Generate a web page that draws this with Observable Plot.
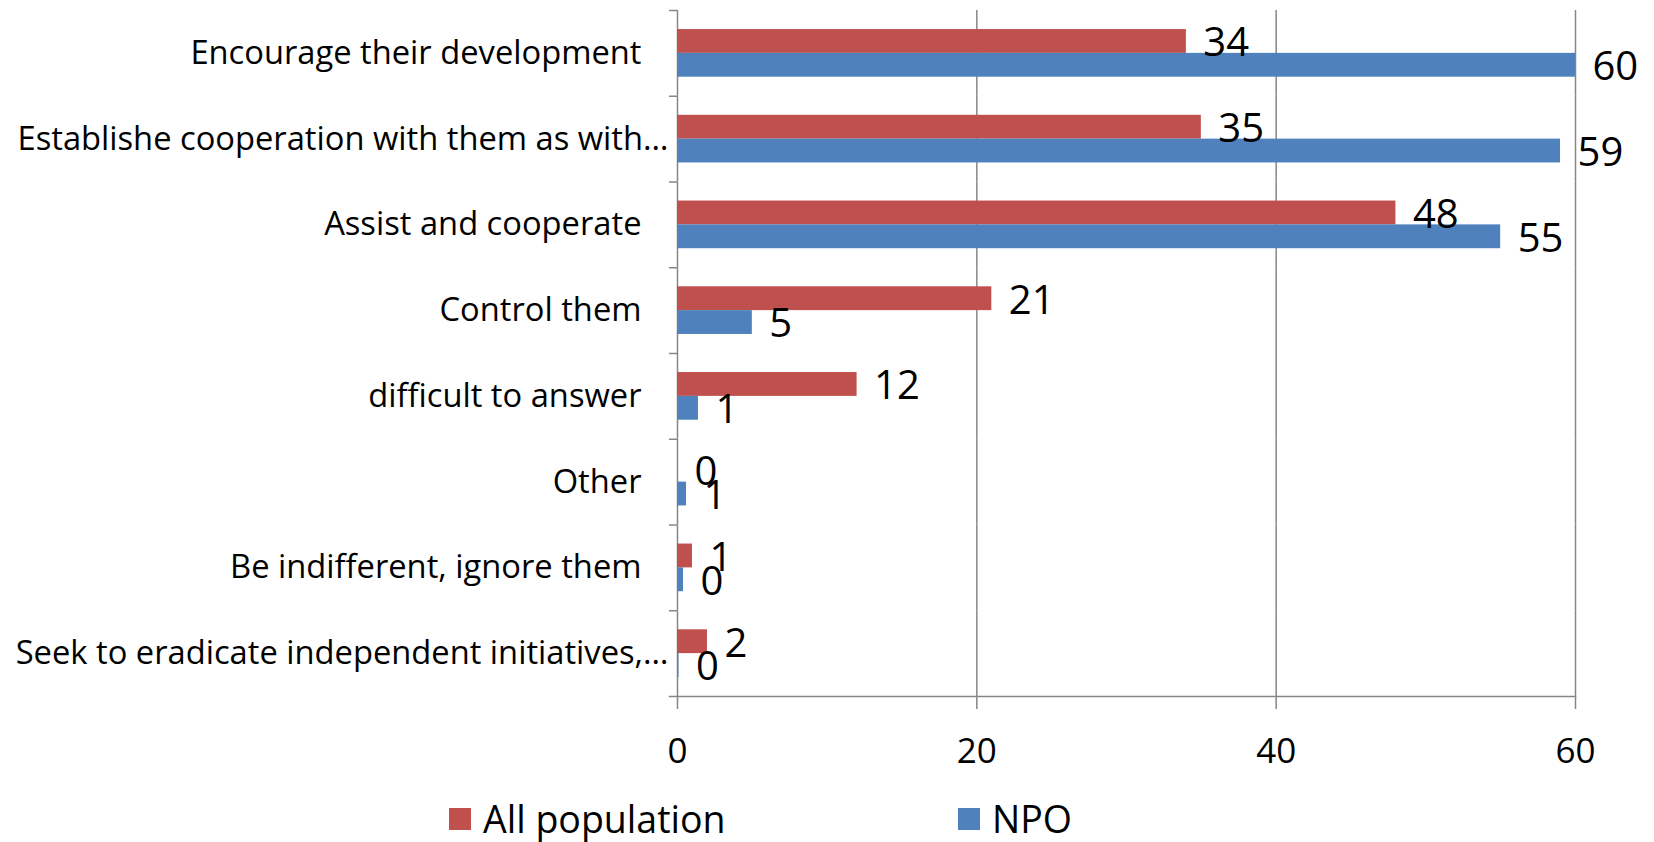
<!DOCTYPE html>
<html><head><meta charset="utf-8">
<script src="https://cdn.jsdelivr.net/npm/d3@7"></script>
<script src="https://cdn.jsdelivr.net/npm/@observablehq/plot@0.6"></script>
<style>
body{margin:0;background:#fff;font-family:"Open Sans",sans-serif;}
#wrap{position:relative;width:1654px;height:842px;overflow:hidden;}
#wrap svg{position:absolute;left:0;top:0;}
.legend-item{position:absolute;top:797px;display:flex;align-items:center;font-size:37.5px;color:#000;line-height:44px;white-space:nowrap;}
.sw{width:22px;height:22px;margin-right:12px;}
</style></head><body><div id="wrap"></div>
<script>
const categories = [
  "Encourage their development",
  "Establishe cooperation with them as with…",
  "Assist and cooperate",
  "Control them",
  "difficult to answer",
  "Other",
  "Be indifferent, ignore them",
  "Seek to eradicate independent initiatives,…"
];
const allPopulation = [34, 35, 48, 21, 12, 0, 1, 2];
const npo = [60, 59, 55, 5, 1.4, 0.6, 0.4, 0.1];
const seriesNames = ["All population", "NPO"];
const seriesColors = ["#C0504D", "#4F81BD"];
const xTicks = [0, 20, 40, 60];

const data = categories.flatMap((c, i) => [
  {category: c, series: seriesNames[0], value: allPopulation[i]},
  {category: c, series: seriesNames[1], value: npo[i]}
]);

const width = 1654, height = 780, marginTop = 10, marginBottom = 84, marginLeft = 677, marginRight = 79;
const step = (height - marginTop - marginBottom) / categories.length;
const gray = "#868686";
const isTruncated = c => c.endsWith("…");

const chart = Plot.plot({
  width, height, marginTop, marginBottom, marginLeft, marginRight,
  style: {fontFamily: "Open Sans", background: "transparent", color: "#000"},
  x: {domain: [0, 60], axis: null, label: null},
  y: {domain: seriesNames, paddingInner: 0, paddingOuter: 0.8, round: false, axis: null, label: null},
  fy: {domain: categories, padding: 0, round: false, axis: null, label: null},
  color: {domain: seriesNames, range: seriesColors},
  marks: [
    Plot.ruleX(xTicks, {stroke: gray, strokeWidth: 1.5}),
    Plot.barX(data, {fy: "category", y: "series", x: "value", fill: "series"}),
    Plot.text(data, {fy: "category", y: "series", x: "value", text: d => String(Math.round(d.value)),
      textAnchor: "start", dx: 17, dy: 2, fontSize: 40, fill: "#000"}),
    Plot.axisFy({anchor: "left", tickSize: 8, text: null, label: null, dy: -step / 2, stroke: gray, strokeWidth: 1.5}),
    Plot.frame({anchor: "bottom", facetAnchor: "bottom", insetLeft: -8, stroke: gray, strokeWidth: 1.5}),
    Plot.axisFy({anchor: "left", tickSize: 0, tickPadding: 36, label: null, fontSize: 32.7, fill: "#000",
      tickFormat: c => isTruncated(c) ? "" : c}),
    Plot.axisFy({anchor: "left", tickSize: 0, tickPadding: 9, label: null, fontSize: 32.7, fill: "#000",
      tickFormat: c => isTruncated(c) ? c : ""}),
    Plot.axisX({anchor: "bottom", ticks: xTicks, label: null, tickSize: 13, tickPadding: 29, fontSize: 35,
      stroke: gray, strokeWidth: 1.5, fill: "#000"})
  ]
});
const wrap = document.getElementById("wrap");
wrap.appendChild(chart);

const legendLefts = [449, 958];
seriesNames.forEach((s, i) => {
  const item = document.createElement("div");
  item.className = "legend-item";
  item.style.left = legendLefts[i] + "px";
  item.innerHTML = `<span class="sw" style="background:${seriesColors[i]}"></span><span>${s}</span>`;
  wrap.appendChild(item);
});
</script></body></html>
